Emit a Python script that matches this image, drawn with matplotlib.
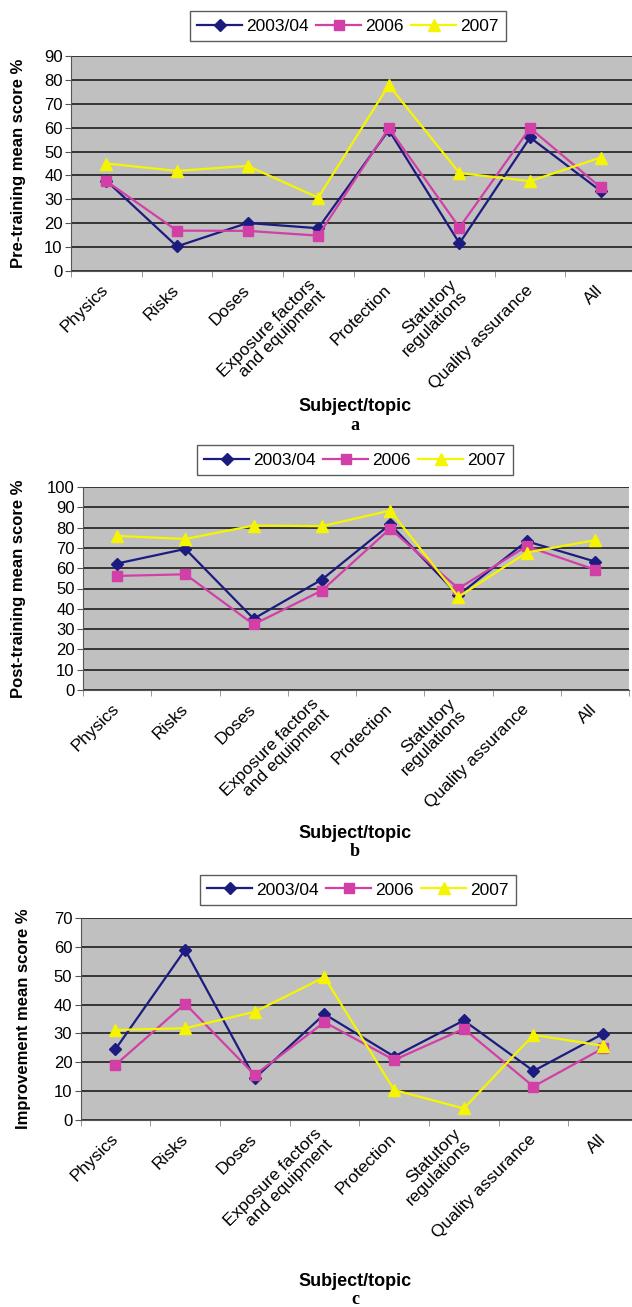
import matplotlib
matplotlib.use("Agg")
import matplotlib.pyplot as plt
import numpy as np

plt.rcParams['font.family'] = ['Liberation Sans', 'DejaVu Sans']

topics = ["Physics", "Risks", "Doses", "Exposure factors\nand equipment", "Protection",
          "Statutory\nregulations", "Quality assurance", "All"]
years = ["2003/04", "2006", "2007"]

pre_0304 = [37.8, 10.3, 20.1, 17.9, 59.0, 11.6, 55.9, 33.5]
pre_2006 = [37.6, 16.9, 16.8, 14.8, 59.8, 18.2, 59.8, 35.0]
pre_2007 = [45.0, 41.9, 44.0, 30.7, 77.8, 41.0, 37.6, 47.5]

post_0304 = [62.3, 69.5, 35.1, 54.4, 81.6, 46.7, 73.3, 63.3]
post_2006 = [56.2, 57.0, 32.3, 49.0, 79.5, 50.0, 70.8, 59.3]
post_2007 = [75.9, 74.4, 81.0, 80.7, 88.4, 45.9, 67.7, 73.8]

imp_0304 = [24.5, 59.0, 14.5, 36.7, 22.0, 34.5, 17.0, 29.9]
imp_2006 = [19.1, 40.3, 15.6, 33.9, 20.8, 31.6, 11.6, 24.9]
imp_2007 = [31.2, 31.8, 37.5, 49.5, 10.4, 4.0, 29.5, 25.7]

colors = ["#1c1c80", "#d23fa6", "#f5f500"]
markers = ["D", "s", "^"]
msizes = [6, 6.5, 8]

W, H = 632, 1307
fig = plt.figure(figsize=(W / 100, H / 100), dpi=100)


def px(l, t, r, b):
    return [l / W, 1 - b / H, (r - l) / W, (b - t) / H]


panels = [
    dict(rect=px(71, 56, 636, 271), data=[pre_0304, pre_2006, pre_2007], ymax=90,
         ylabel="Pre-training mean score %", ylab_x=26, leg=(348, 26), xlab_y=407, letter="a"),
    dict(rect=px(83, 487, 629, 690), data=[post_0304, post_2006, post_2007], ymax=100,
         ylabel="Post-training mean score %", ylab_x=26, leg=(355, 460), xlab_y=833, letter="b"),
    dict(rect=px(80.6, 918, 638, 1120), data=[imp_0304, imp_2006, imp_2007], ymax=70,
         ylabel="Improvement mean score %", ylab_x=31, leg=(358, 890), xlab_y=1281, letter="c"),
]

x = np.arange(len(topics))
for p in panels:
    ax = fig.add_axes(p["rect"])
    ax.set_facecolor("#c0c0c0")
    for vals, yr, c, m, ms in zip(p["data"], years, colors, markers, msizes):
        ax.plot(x, vals, color=c, marker=m, markersize=ms, linewidth=1.6, label=yr,
                clip_on=False, zorder=3)
    ax.set_xlim(-0.5, len(topics) - 0.5)
    ax.set_ylim(0, p["ymax"])
    ax.set_yticks(np.arange(0, p["ymax"] + 1, 10))
    ax.yaxis.grid(True, color="#2a2a2a", linewidth=1.3)
    ax.set_axisbelow(True)
    for s in ["top", "right"]:
        ax.spines[s].set_visible(False)
    ax.spines["left"].set_color("#555555")
    ax.spines["bottom"].set_color("#555555")
    ax.tick_params(axis="y", labelsize=12, length=4, color="#555555", pad=2)
    ax.set_xticks(x)
    ax.set_xticklabels(topics, rotation=45, ha="right", va="center",
                       rotation_mode="anchor", fontsize=12.5, linespacing=1.0)
    ax.set_xticks(np.arange(-0.5, len(topics)), minor=True)
    ax.tick_params(axis="x", which="major", length=0, pad=12)
    ax.tick_params(axis="x", which="minor", length=4, color="#888888")
    ax.set_ylabel(p["ylabel"], fontsize=12, fontweight="bold")
    ax.yaxis.set_label_coords(p["ylab_x"] / W, (p["rect"][1] + p["rect"][3] / 2),
                              transform=fig.transFigure)
    leg = ax.legend(loc="center", bbox_to_anchor=(p["leg"][0] / W, 1 - p["leg"][1] / H),
                    bbox_transform=fig.transFigure, ncol=3, fontsize=12.5, frameon=True,
                    fancybox=False, edgecolor="#333333", handlelength=2.6,
                    columnspacing=0.4, handletextpad=0.25, borderpad=0.4)
    leg.get_frame().set_linewidth(1.0)
    fig.text(355 / W, 1 - p["xlab_y"] / H, "Subject/topic", ha="center", va="center",
             fontsize=13, fontweight="bold")
    fig.text(355 / W, 1 - (p["xlab_y"] + 19) / H, p["letter"], ha="center", va="center",
             fontsize=13, fontweight="bold", family=["Liberation Serif", "DejaVu Serif"])

fig.savefig("out.png", dpi=100)
